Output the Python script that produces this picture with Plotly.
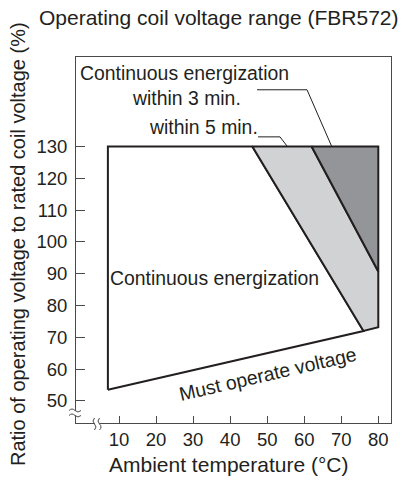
import plotly.graph_objects as go

# ---------------- data ----------------
x_ticks = [10, 20, 30, 40, 50, 60, 70, 80]
y_ticks = [50, 60, 70, 80, 90, 100, 110, 120, 130]

# Region boundaries (ambient temperature °C, % of rated coil voltage)
continuous_temp = [7, 7, 46, 76, 7]
continuous_volt = [53.5, 130, 130, 72.0, 53.5]

within5_temp = [46, 62, 80, 80, 76, 46]
within5_volt = [130, 130, 90.7, 73.2, 72.0, 130]

within3_temp = [62, 80, 80, 62]
within3_volt = [130, 130, 90.7, 130]

title_text = "Operating coil voltage range (FBR572)"
x_title = "Ambient temperature (°C)"
y_title = "Ratio of operating voltage to rated coil voltage (%)"

# ---------------- style ----------------
FONT = "Liberation Sans, Arial, Helvetica, sans-serif"
INK = "#231f20"
AX = "#4a4a4a"
L, R, T, B = 76, 14, 57, 60
W, H = 405, 483
PW, PH = W - L - R, H - T - B


def px(xp, yp):
    return (xp - L) / PW, (H - B - yp) / PH


fig = go.Figure()
for xs, ys, fc in [
    (continuous_temp, continuous_volt, "white"),
    (within5_temp, within5_volt, "#d1d2d4"),
    (within3_temp, within3_volt, "#939598"),
]:
    fig.add_trace(go.Scatter(
        x=xs, y=ys, mode="lines", fill="toself", fillcolor=fc,
        line=dict(color=INK, width=2), hoverinfo="skip", showlegend=False))

annotations = []


def txt(x, y, s, size=19.4, xanchor="center", angle=0, xref="x", yref="y"):
    annotations.append(dict(x=x, y=y, xref=xref, yref=yref, text=s, showarrow=False,
                            xanchor=xanchor, yanchor="middle", textangle=angle,
                            font=dict(family=FONT, size=size, color=INK)))


txt(-1.0, 153.1, "Continuous energization", xanchor="left")
txt(28.1, 145.2, "within 3 min.")
txt(32.7, 136.1, "within 5 min.")
txt(35.9, 88.6, "Continuous energization")
txt(50.0, 58.6, "Must operate voltage", angle=-13)

# titles
tx, ty = px(218.5, 17)
txt(tx, ty, title_text, size=21, xref="paper", yref="paper")
tx, ty = px(228, 465)
txt(tx, ty, x_title, size=21, xref="paper", yref="paper")
tx, ty = px(18, 244)
txt(tx, ty, y_title, size=20, angle=-90, xref="paper", yref="paper")

shapes = []
# leader lines
shapes.append(dict(type="path", xref="x", yref="y",
                   path="M 47.26,147.8 L 60.76,147.8 L 67.42,130",
                   line=dict(color=INK, width=1)))
shapes.append(dict(type="path", xref="x", yref="y",
                   path="M 47.53,133.0 L 53.47,133.0 L 55.44,130",
                   line=dict(color=INK, width=1)))


def ppath(points):
    out = []
    for cmd, pts in points:
        s = " ".join("%.5f,%.5f" % px(a, b) for a, b in pts)
        out.append(cmd + " " + s)
    return " ".join(out)


# axis break on y axis
x0, y0 = px(73, 415.5)
x1, y1 = px(79, 410.5)
shapes.append(dict(type="rect", xref="paper", yref="paper", x0=x0, x1=x1, y0=y0, y1=y1,
                   fillcolor="white", line=dict(width=0), layer="above"))
for yy in (410.5, 415.5):
    shapes.append(dict(type="path", xref="paper", yref="paper", layer="above",
                       path=ppath([("M", [(69, yy)]), ("Q", [(72, yy - 3), (75, yy)]),
                                   ("Q", [(78, yy + 3), (81, yy)])]),
                       line=dict(color=AX, width=1)))
# axis break on x axis
x0, y0 = px(94.5, 426)
x1, y1 = px(99.5, 420)
shapes.append(dict(type="rect", xref="paper", yref="paper", x0=x0, x1=x1, y0=y0, y1=y1,
                   fillcolor="white", line=dict(width=0), layer="above"))
for xx in (94.5, 99.5):
    shapes.append(dict(type="path", xref="paper", yref="paper", layer="above",
                       path=ppath([("M", [(xx, 418)]), ("Q", [(xx - 3, 421), (xx, 424)]),
                                   ("Q", [(xx + 3, 427), (xx, 430)])]),
                       line=dict(color=AX, width=1)))

axis_common = dict(showgrid=False, zeroline=False, showline=True, linecolor=AX,
                   linewidth=1, mirror=True, ticks="inside", tickcolor=AX, tickwidth=1,
                   tickfont=dict(family=FONT, size=18.5, color=INK), fixedrange=True)

fig.update_layout(
    width=W, height=H, autosize=False,
    margin=dict(l=L, r=R, t=T, b=B, pad=0),
    paper_bgcolor="white", plot_bgcolor="white",
    showlegend=False,
    xaxis=dict(range=[-1.61, 83.43], tickvals=x_ticks, ticklen=7, **axis_common),
    yaxis=dict(range=[43.08, 158.1], tickvals=y_ticks, ticklen=9, ticklabelstandoff=4,
               **axis_common),
    annotations=annotations,
    shapes=shapes,
)

fig.write_html("out.html", config={"displayModeBar": False},
               post_script="document.body.style.margin='0';document.body.style.overflow='hidden';")
